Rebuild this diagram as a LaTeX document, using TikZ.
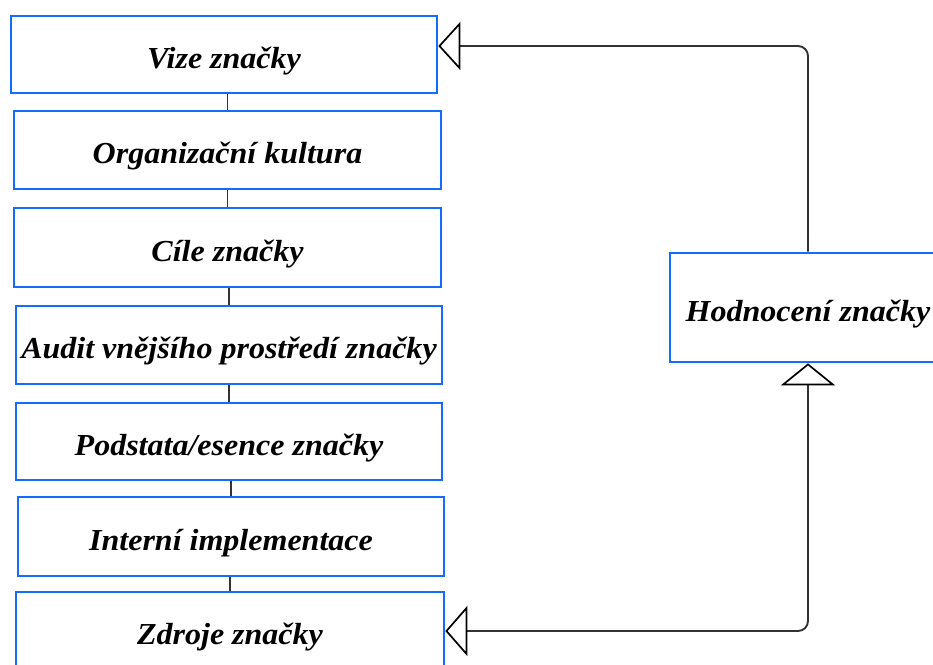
\documentclass[tikz,border=0pt]{standalone}
\usepackage{fontspec}
\setmainfont{Liberation Serif}[FakeStretch=1.05]
\usetikzlibrary{arrows.meta}
\definecolor{boxblue}{RGB}{20,108,255}
\definecolor{linegray}{RGB}{51,51,51}
\begin{document}
\begin{tikzpicture}[x=1pt,y=-1pt,
  box/.style={draw=boxblue, line width=2.6pt, fill=white, inner sep=0pt,
    text height=27pt, text depth=0pt,
    font=\fontsize{30.5}{32}\selectfont\bfseries\itshape},
  conn/.style={draw=linegray, line width=1.9pt}
]
\useasboundingbox (0,0) rectangle (933,664);
\clip (0,0) rectangle (933,664);
\node[box, minimum width=426pt, minimum height=77pt] (b1) at (224,54.5) {Vize značky};
\node[box, minimum width=427pt, minimum height=78pt] (b2) at (227.5,150) {Organizační kultura};
\node[box, minimum width=427pt, minimum height=79pt] (b3) at (227.5,247.5) {Cíle značky};
\node[box, minimum width=426pt, minimum height=78pt] (b4) at (229,345) {Audit vnějšího prostředí značky};
\node[box, minimum width=426pt, minimum height=77pt] (b5) at (229,441.5) {Podstata/esence značky};
\node[box, minimum width=426pt, minimum height=79pt] (b6) at (231,536.5) {Interní implementace};
\node[box, minimum width=428pt, minimum height=78pt] (b7) at (230,631) {Zdroje značky};
\node[box, minimum width=276pt, minimum height=109pt] (hod) at (808,307.5) {Hodnocení značky};

\draw[conn] (b2.north) -- (b2.north |- b1.south);
\draw[conn] (b3.north) -- (b3.north |- b2.south);
\draw[conn] (b4.north) -- (b4.north |- b3.south);
\draw[conn] (b5.north) -- (b5.north |- b4.south);
\draw[conn] (b6.north) -- (b6.north |- b5.south);
\draw[conn] (b7.north) -- (b7.north |- b6.south);

\draw[conn, rounded corners=10pt, -{Triangle[open, length=22pt, width=48pt, line width=1.7pt, color=black, fill=white]}]
  (hod.north) |- ([yshift=8.5pt]b1.east);
\draw[conn, rounded corners=10pt,
  {Triangle[open, length=22pt, width=54pt, line width=1.7pt, color=black, fill=white]}-{Triangle[open, length=22pt, width=50pt, line width=1.7pt, color=black, fill=white]}]
  (hod.south) |- (b7.east);
\end{tikzpicture}
\end{document}
